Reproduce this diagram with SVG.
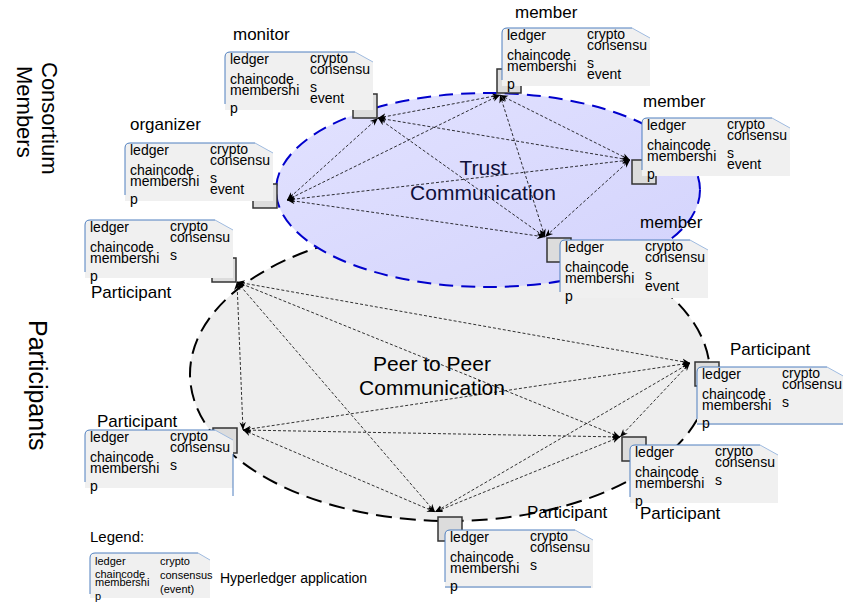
<svg xmlns="http://www.w3.org/2000/svg" xmlns:xlink="http://www.w3.org/1999/xlink" width="843" height="603" viewBox="0 0 843 603">
  <style>
    text { font-family: "Liberation Sans", Arial, sans-serif; fill: #000; }
    .lbl { font-size: 17px; }
    .ct { font-size: 14px; }
    .lg { font-size: 11px; }
    .side { font-size: 22px; }
    .title { font-size: 21px; }
    .peer line { stroke: #000; stroke-width: 0.8; stroke-dasharray: 3 2; fill: none; marker-start: url(#ah); marker-end: url(#ah); }
    .sq { stroke: #333; stroke-width: 1.5; fill: #dcdcdc; }
  </style>
  <defs>
    <marker id="ah" viewBox="0 0 10 10" refX="10" refY="5" markerWidth="8" markerHeight="8" markerUnits="userSpaceOnUse" orient="auto-start-reverse">
      <path d="M0,1 L10,5 L0,9 L3,5 Z" fill="#000"/>
    </marker>
    <linearGradient id="trustFill" x1="0" y1="0" x2="1" y2="1">
      <stop offset="0" stop-color="#e2e2ff"/>
      <stop offset="1" stop-color="#d3d3fc"/>
    </linearGradient>
    <!-- application card: light panel with blue top/left edge and clipped corner -->
    <g id="card">
      <path d="M0,5 Q0,0 5,0 L130,0 L148,10 L148,58 L0,58 Z" fill="#f0f0f0"/>
      <path d="M0,52 L0,5 Q0,0 5,0 L130,0" fill="none" stroke="#4f7fbf" stroke-width="1"/>
      <path d="M130,0 L148,10" fill="none" stroke="#9fbbe0" stroke-width="1"/>
    </g>
  </defs>

  <rect width="843" height="603" fill="#fff"/>

  <!-- side captions -->
  <text class="side" transform="translate(42,62) rotate(90)">Consortium</text>
  <text class="side" transform="translate(17,66) rotate(90)">Members</text>
  <text class="side" transform="translate(29,320) rotate(90)" style="font-size:25px">Participants</text>

  <!-- communication areas -->
  <g id="areas">
    <ellipse id="peer-area" cx="450" cy="374" rx="260" ry="147" fill="#eeeeee" stroke="#000" stroke-width="2" stroke-dasharray="16 8"/>
    <ellipse id="trust-area" cx="488" cy="190" rx="212" ry="97" fill="url(#trustFill)" stroke="#0000cc" stroke-width="2" stroke-dasharray="14 8"/>
    <text class="title" x="483" y="175" text-anchor="middle" style="fill:#10103a">Trust</text>
    <text class="title" x="483" y="200" text-anchor="middle" style="fill:#10103a">Communication</text>
    <text class="title" x="432" y="371" text-anchor="middle">Peer to Peer</text>
    <text class="title" x="432" y="395" text-anchor="middle">Communication</text>
  </g>

  <!-- connectors -->
  <g id="connectors" class="peer">
    <!-- trust mesh -->
    <line x1="378" y1="118" x2="500" y2="95"/>
    <line x1="378" y1="118" x2="630" y2="160"/>
    <line x1="378" y1="118" x2="545" y2="237"/>
    <line x1="378" y1="118" x2="287" y2="200"/>
    <line x1="500" y1="95" x2="630" y2="160"/>
    <line x1="500" y1="95" x2="287" y2="200"/>
    <line x1="500" y1="95" x2="545" y2="237"/>
    <line x1="287" y1="200" x2="630" y2="160"/>
    <line x1="287" y1="200" x2="545" y2="237"/>
    <line x1="630" y1="160" x2="545" y2="237"/>
    <!-- peer mesh -->
    <line x1="237" y1="282" x2="690" y2="363"/>
    <line x1="237" y1="282" x2="243" y2="430"/>
    <line x1="237" y1="282" x2="620" y2="437"/>
    <line x1="237" y1="282" x2="435" y2="512"/>
    <line x1="690" y1="363" x2="243" y2="430"/>
    <line x1="690" y1="363" x2="620" y2="437"/>
    <line x1="690" y1="363" x2="435" y2="512"/>
    <line x1="243" y1="430" x2="620" y2="437"/>
    <line x1="243" y1="430" x2="435" y2="512"/>
    <line x1="620" y1="437" x2="435" y2="512"/>
  </g>

  <!-- nodes -->
  <g id="monitor" transform="translate(225,52)">
    <rect class="sq" x="128" y="42" width="24" height="24" fill="#d8dde6"/>
    <use xlink:href="#card"/>
    <text class="lbl" x="8" y="-12">monitor</text>
    <g class="ct"><text x="5" y="12">ledger</text><text x="5" y="32">chaincode</text><text x="5" y="43">membershi</text><text x="5" y="61">p</text>
    <text x="85" y="11">crypto</text><text x="85" y="22">consensu</text><text x="85" y="40">s</text><text x="85" y="51">event</text></g>
  </g>

  <g id="member-top" transform="translate(502,28)">
    <rect class="sq" x="-5" y="41" width="24" height="24"/>
    <use xlink:href="#card"/>
    <text class="lbl" x="13" y="-10">member</text>
    <g class="ct"><text x="5" y="12">ledger</text><text x="5" y="32">chaincode</text><text x="5" y="43">membershi</text><text x="5" y="61">p</text>
    <text x="85" y="11">crypto</text><text x="85" y="22">consensu</text><text x="85" y="40">s</text><text x="85" y="51">event</text></g>
  </g>

  <g id="member-right" transform="translate(642,118)">
    <rect class="sq" x="-10" y="42" width="24" height="24"/>
    <use xlink:href="#card"/>
    <text class="lbl" x="1" y="-11">member</text>
    <g class="ct"><text x="5" y="12">ledger</text><text x="5" y="32">chaincode</text><text x="5" y="43">membershi</text><text x="5" y="61">p</text>
    <text x="85" y="11">crypto</text><text x="85" y="22">consensu</text><text x="85" y="40">s</text><text x="85" y="51">event</text></g>
  </g>

  <g id="organizer" transform="translate(125,143)">
    <rect class="sq" x="128" y="41" width="24" height="24"/>
    <use xlink:href="#card"/>
    <text class="lbl" x="5" y="-13">organizer</text>
    <g class="ct"><text x="5" y="12">ledger</text><text x="5" y="32">chaincode</text><text x="5" y="43">membershi</text><text x="5" y="61">p</text>
    <text x="85" y="11">crypto</text><text x="85" y="22">consensu</text><text x="85" y="40">s</text><text x="85" y="51">event</text></g>
  </g>

  <g id="member-bottom" transform="translate(560,240)">
    <rect class="sq" x="-13" y="-2" width="24" height="24"/>
    <use xlink:href="#card"/>
    <text class="lbl" x="80" y="-12">member</text>
    <g class="ct"><text x="5" y="12">ledger</text><text x="5" y="32">chaincode</text><text x="5" y="43">membershi</text><text x="5" y="61">p</text>
    <text x="85" y="11">crypto</text><text x="85" y="22">consensu</text><text x="85" y="40">s</text><text x="85" y="51">event</text></g>
  </g>

  <g id="participant-tl" transform="translate(85,220)">
    <rect class="sq" x="127" y="38" width="24" height="24"/>
    <use xlink:href="#card"/>
    <text class="lbl" x="6" y="78">Participant</text>
    <g class="ct"><text x="5" y="12">ledger</text><text x="5" y="32">chaincode</text><text x="5" y="43">membershi</text><text x="5" y="61">p</text>
    <text x="85" y="11">crypto</text><text x="85" y="22">consensu</text><text x="85" y="40">s</text></g>
  </g>

  <g id="participant-right" transform="translate(697,367)">
    <rect class="sq" x="-2" y="-5" width="24" height="24"/>
    <use xlink:href="#card"/>
    <line x1="0" y1="57" x2="146" y2="57" stroke="#4f7fbf" stroke-width="1"/>
    <text class="lbl" x="33" y="-12">Participant</text>
    <g class="ct"><text x="5" y="12">ledger</text><text x="5" y="32">chaincode</text><text x="5" y="43">membershi</text><text x="5" y="61">p</text>
    <text x="85" y="11">crypto</text><text x="85" y="22">consensu</text><text x="85" y="40">s</text></g>
  </g>

  <g id="participant-left" transform="translate(85,430)">
    <rect class="sq" x="128" y="-2" width="24" height="25" fill="#a9a9a9"/>
    <use xlink:href="#card"/>
    <line x1="148" y1="24" x2="148" y2="66" stroke="#4f7fbf" stroke-width="1"/>
    <text class="lbl" x="12" y="-3">Participant</text>
    <g class="ct"><text x="5" y="12">ledger</text><text x="5" y="32">chaincode</text><text x="5" y="43">membershi</text><text x="5" y="61">p</text>
    <text x="85" y="11">crypto</text><text x="85" y="22">consensu</text><text x="85" y="40">s</text></g>
  </g>

  <g id="participant-lr" transform="translate(630,445)">
    <rect class="sq" x="-8" y="-8" width="24" height="24" fill="#fff"/>
    <use xlink:href="#card"/>
    <text class="lbl" x="10" y="74">Participant</text>
    <g class="ct"><text x="5" y="12">ledger</text><text x="5" y="32">chaincode</text><text x="5" y="43">membershi</text><text x="5" y="61">p</text>
    <text x="85" y="11">crypto</text><text x="85" y="22">consensu</text><text x="85" y="40">s</text></g>
  </g>

  <g id="participant-bottom" transform="translate(445,530)">
    <rect class="sq" x="-7" y="-13" width="24" height="24"/>
    <use xlink:href="#card"/>
    <line x1="0" y1="57" x2="146" y2="57" stroke="#4f7fbf" stroke-width="1"/>
    <text class="lbl" x="82" y="-12">Participant</text>
    <g class="ct"><text x="5" y="12">ledger</text><text x="5" y="32">chaincode</text><text x="5" y="43">membershi</text><text x="5" y="61">p</text>
    <text x="85" y="11">crypto</text><text x="85" y="22">consensu</text><text x="85" y="40">s</text></g>
  </g>

  <!-- legend -->
  <g id="legend">
    <text x="90" y="542" style="font-size:15px">Legend:</text>
    <path d="M90,558 Q90,553 95,553 L198,553 L210,560 L210,598 L90,598 Z" fill="#f0f0f0"/>
    <path d="M90,594 L90,558 Q90,553 95,553 L198,553" fill="none" stroke="#4f7fbf" stroke-width="1"/>
    <path d="M198,553 L210,560" fill="none" stroke="#9fbbe0" stroke-width="1"/>
    <g class="lg">
      <text x="95" y="565">ledger</text><text x="95" y="578">chaincode</text><text x="95" y="586">membershi</text><text x="95" y="600">p</text>
      <text x="160" y="565">crypto</text><text x="160" y="579">consensus</text><text x="160" y="593">(event)</text>
    </g>
    <text x="220" y="583" style="font-size:14px">Hyperledger application</text>
  </g>
</svg>
